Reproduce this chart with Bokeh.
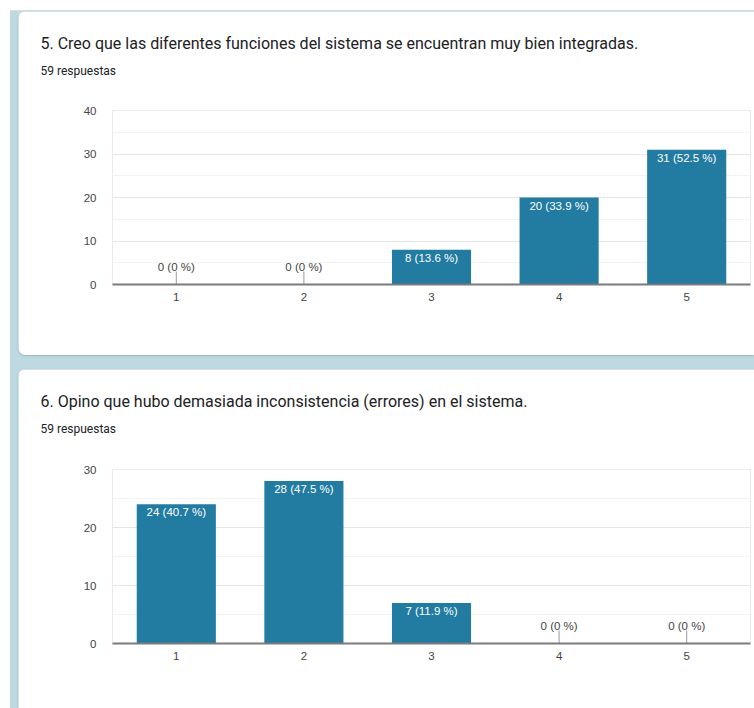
import math

from bokeh.core.properties import value
from bokeh.embed import file_html
from bokeh.layouts import column
from bokeh.models import ColumnDataSource, FactorRange, Range1d, SingleIntervalTicker, Title
from bokeh.plotting import figure
from bokeh.resources import INLINE

# Survey answers (Likert scale 1-5), 59 responses per question
categories = ["1", "2", "3", "4", "5"]
q5_counts = [0, 0, 8, 20, 31]
q5_pct = [0, 0, 13.6, 33.9, 52.5]
q6_counts = [24, 28, 7, 0, 0]
q6_pct = [40.7, 47.5, 11.9, 0, 0]
responses_text = "59 respuestas"
q5_title = "5. Creo que las diferentes funciones del sistema se encuentran muy bien integradas."
q6_title = "6. Opino que hubo demasiada inconsistencia (errores) en el sistema."
q5_ymax = 40
q6_ymax = 30

BAR = "#227ba0"
HEAD_FONT = "Roboto"
CHART_FONT = "Liberation Sans"
CARD_W = 736
BORDER_L = 94
BORDER_R = 4


def card(title, counts, pct, ymax, height, border_top, border_bottom,
         head_gap, radius):
    p = figure(
        x_range=FactorRange(*categories, range_padding=0),
        y_range=Range1d(0, ymax),
        width=CARD_W, height=height,
        output_backend="svg", toolbar_location=None,
        min_border_left=BORDER_L, min_border_right=BORDER_R,
        min_border_top=border_top, min_border_bottom=border_bottom,
        background_fill_color="white", border_fill_color="white",
        outline_line_color="#ebebeb",
        margin=(0, 0, 0, 8),
        styles={"border-radius": radius, "overflow": "hidden",
                "box-shadow": "0 1px 2px rgba(60,64,67,0.25)"},
    )

    labels = [f"{c} ({p_:g} %)" for c, p_ in zip(counts, pct)]
    src = ColumnDataSource(dict(cat=categories, count=counts, label=labels))
    nz = ColumnDataSource(dict(
        cat=[c for c, n in zip(categories, counts) if n > 0],
        count=[n for n in counts if n > 0],
        label=[l for l, n in zip(labels, counts) if n > 0],
    ))
    zr = ColumnDataSource(dict(
        cat=[c for c, n in zip(categories, counts) if n == 0],
        count=[n for n in counts if n == 0],
        label=[l for l, n in zip(labels, counts) if n == 0],
    ))

    p.vbar(x="cat", top="count", width=0.62, source=src,
           fill_color=BAR, line_color=None)

    # value labels inside the bars
    p.text(x="cat", y="count", text="label", source=nz,
           text_color="white", text_align="center", text_baseline="top",
           y_offset=2, text_font=value(CHART_FONT), text_font_size="11.5px")

    # zero-height bars: label raised on a short stem
    p.ray(x="cat", y="count", length=13, length_units="screen",
          angle=math.pi / 2, source=zr, line_color="#9a9a9a", line_width=1)
    p.text(x="cat", y="count", text="label", source=zr,
           text_color="#444444", text_align="center", text_baseline="middle",
           y_offset=-18, text_font=value(CHART_FONT), text_font_size="11.5px")

    ticker = SingleIntervalTicker(interval=10, num_minor_ticks=2)
    p.yaxis.ticker = ticker
    p.ygrid.ticker = ticker
    p.ygrid.grid_line_color = "#e6e6e6"
    p.ygrid.minor_grid_line_color = "#f3f3f3"
    p.xgrid.grid_line_color = None

    p.yaxis.axis_line_color = None
    p.yaxis.major_tick_line_color = None
    p.yaxis.minor_tick_line_color = None
    p.yaxis.major_tick_out = 0
    p.yaxis.major_label_standoff = 12
    p.xaxis.axis_line_color = "#7b7b7b"
    p.xaxis.axis_line_width = 2
    p.xaxis.major_tick_line_color = None
    p.xaxis.minor_tick_line_color = None
    p.xaxis.major_tick_out = 0
    p.xaxis.major_label_standoff = 8
    for ax in (p.xaxis, p.yaxis):
        ax.major_label_text_font = CHART_FONT
        ax.major_label_text_font_size = "11.5px"
        ax.major_label_text_color = "#444444"

    # headings stacked above the frame: blank spacer, count, question
    p.add_layout(Title(text=" ", standoff=head_gap, text_font_size="12px",
                       text_color="white"), "above")
    p.add_layout(Title(text=responses_text, align="left", offset=22 - BORDER_L,
                       standoff=4, text_font=HEAD_FONT, text_font_size="12px",
                       text_font_style="normal", text_color="#202124"), "above")
    p.add_layout(Title(text=title, align="left", offset=22 - BORDER_L,
                       standoff=13, text_font=HEAD_FONT, text_font_size="16px",
                       text_font_style="normal", text_color="#202124"), "above")
    return p


c5 = card(q5_title, q5_counts, q5_pct, q5_ymax, 344, 99, 71, 15, "8px 0 0 8px")
c6 = card(q6_title, q6_counts, q6_pct, q6_ymax, 339, 100, 65, 16, "8px 0 0 0")

page = column(
    c5, c6, spacing=14, margin=(10, 0, 0, 10),
    styles={"background-color": "#bfd9e3", "border-top": "1px solid #dadce0"},
)

open("out.html", "w").write(file_html(page, INLINE))
